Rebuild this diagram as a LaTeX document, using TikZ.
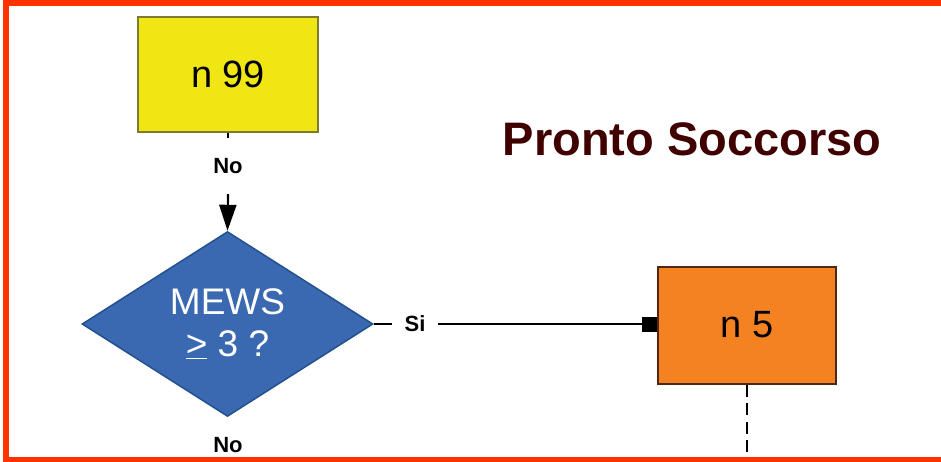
\documentclass[tikz,border=0pt]{standalone}
\usepackage{fontspec}
\setmainfont{Liberation Sans}
\usetikzlibrary{shapes.geometric,arrows.meta}

\definecolor{framered}{HTML}{FF3300}
\definecolor{boxyellow}{HTML}{F0E614}
\definecolor{yellowedge}{HTML}{807A30}
\definecolor{diamondblue}{HTML}{3A69B1}
\definecolor{diamondedge}{HTML}{24508F}
\definecolor{boxorange}{HTML}{F58220}
\definecolor{orangeedge}{HTML}{4E2814}
\definecolor{titlemaroon}{HTML}{400000}

\tikzset{
  actionbox/.style={rectangle, line width=2pt, inner sep=0pt,
    font=\fontsize{38}{42}\selectfont, text=black},
  decision/.style={diamond, fill=diamondblue, draw=diamondedge, line width=1.5pt,
    inner sep=0pt, align=center, text=white,
    font=\fontsize{37}{42}\selectfont},
  edgelabel/.style={fill=white, inner sep=0pt, minimum width=58pt, minimum height=56pt,
    font=\bfseries\fontsize{22}{24}\selectfont},
  link/.style={line width=2.2pt, draw=black},
}

\begin{document}
\begin{tikzpicture}[x=1pt,y=-1pt]
  \useasboundingbox (0,0) rectangle (941,462);
  \fill[white] (0,0) rectangle (941,462);

  % boxes and decision
  \node[actionbox, fill=boxyellow, draw=yellowedge,
        minimum width=180pt, minimum height=115pt] (n99) at (228,74.5) {n 99};
  \node[decision, minimum width=291pt, minimum height=180pt] (mews) at (227.5,324)
        {MEWS\\\underline{\smash{>}}\ 3 ?};
  \node[actionbox, fill=boxorange, draw=orangeedge,
        minimum width=178pt, minimum height=117pt] (n5) at (747,325) {n 5};

  % title
  \node[anchor=base, text=titlemaroon, font=\bfseries\fontsize{47}{50}\selectfont]
        (title) at (692,156) {Pronto Soccorso};

  % connector labels
  \node[edgelabel] (no1) at (228,166) {No};
  \node[edgelabel, minimum width=46pt] (si) at (415,324) {Si};
  \node[edgelabel] (no2) at (228,445) {No};

  % connectors
  \draw[link] (n99.south) -- (no1.north);
  \draw[link, -{Triangle[length=26pt,width=17pt]}] (no1.south) -- (mews.north);
  \draw[link] (mews.east) -- (si.west);
  \draw[link, -{Square[length=15pt,width=15pt]}] (si.east) -- (si.east -| n5.west);
  \coordinate (dashend) at (747,452);
  \draw[link, dash pattern=on 12pt off 6.5pt] (n5.south) -- (dashend);

  % red frame (open to the right), drawn over everything
  \fill[framered] (3,0) rectangle (941,6);
  \fill[framered] (3,0) rectangle (9,462);
  \fill[framered] (3,457) rectangle (941,462);
\end{tikzpicture}
\end{document}
